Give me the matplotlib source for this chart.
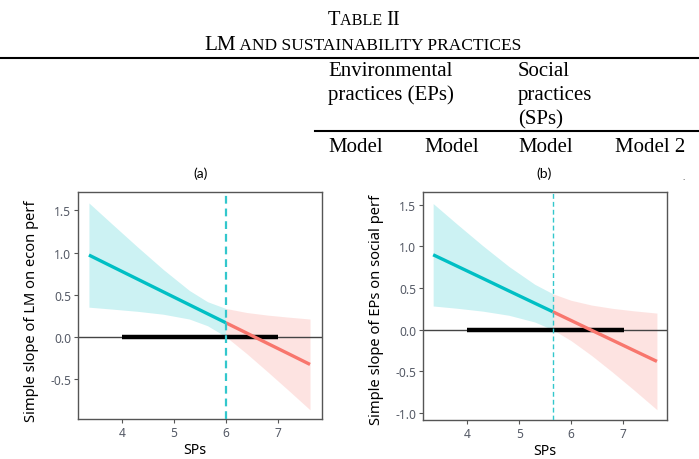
import matplotlib
matplotlib.use("Agg")
import matplotlib.pyplot as plt
import numpy as np
from matplotlib.lines import Line2D

# ---------------- data ----------------
sp_a = [3.37, 3.8, 4.3, 4.8, 5.3, 5.65, 6.0, 6.4, 6.8, 7.2, 7.62]
est_a = [0.97, 0.838, 0.685, 0.532, 0.379, 0.272, 0.165, 0.043, -0.080, -0.202, -0.331]
upper_a = [1.59, 1.348, 1.069, 0.798, 0.549, 0.415, 0.335, 0.287, 0.256, 0.232, 0.209]
lower_a = [0.35, 0.328, 0.301, 0.266, 0.209, 0.129, 0.0, -0.201, -0.416, -0.636, -0.871]
jn_a = 6.0
range_a = [4.0, 7.0]

sp_b = [3.34, 3.8, 4.3, 4.8, 5.3, 5.65, 6.0, 6.4, 6.8, 7.2, 7.66]
est_b = [0.90, 0.764, 0.616, 0.467, 0.319, 0.216, 0.112, -0.007, -0.125, -0.244, -0.38]
upper_b = [1.515, 1.269, 1.008, 0.761, 0.546, 0.432, 0.354, 0.296, 0.257, 0.228, 0.20]
lower_b = [0.285, 0.258, 0.223, 0.174, 0.093, 0.0, -0.130, -0.310, -0.508, -0.715, -0.96]
jn_b = 5.65
range_b = [4.0, 7.03]

xticks = [4, 5, 6, 7]
yticks_a = [-0.5, 0.0, 0.5, 1.0, 1.5]
yticks_b = [-1.0, -0.5, 0.0, 0.5, 1.0, 1.5]
ylabel_a = "Simple slope of LM on econ perf"
ylabel_b = "Simple slope of EPs on social perf"
xlabel = "SPs"

# ---------------- figure ----------------
W, H = 699, 460
fig = plt.figure(figsize=(W / 100, H / 100), dpi=100)


def fx(x):
    return x / W


def fy(y):
    return 1 - y / H


SERIF = ["Liberation Serif", "DejaVu Serif"]


def smallcaps(pieces, cx, base_y):
    renderer = fig.canvas.get_renderer()
    texts = []
    widths = []
    for s, size in pieces:
        t = fig.text(0, 0, s, fontsize=size, family=SERIF, va="baseline", ha="left")
        widths.append(t.get_window_extent(renderer).width)
        texts.append(t)
    total = sum(widths)
    x = cx - total / 2
    for t, w in zip(texts, widths):
        t.set_position((fx(x), fy(base_y)))
        x += w


smallcaps([("T", 14.8), ("ABLE ", 11.6), ("II", 14.8)], 364, 25)
smallcaps([("LM", 15.2), (" AND SUSTAINABILITY PRACTICES", 12.5)], 363, 50)

fig.add_artist(Line2D([fx(0), fx(699)], [fy(59), fy(59)], color="black", lw=1.5,
                      transform=fig.transFigure))
fig.add_artist(Line2D([fx(315), fx(699)], [fy(132), fy(132)], color="black", lw=1.5,
                      transform=fig.transFigure))

tsize = 15.0
for s, x, y in [("Environmental", 328, 76), ("practices (EPs)", 328, 100),
                ("Social", 518, 76), ("practices", 518, 100), ("(SPs)", 518, 124),
                ("Model", 328, 152), ("Model", 424, 152), ("Model", 518, 152),
                ("Model 2", 615, 152)]:
    fig.text(fx(x), fy(y), s, fontsize=tsize, family=SERIF, va="baseline", ha="left")

SANS = ["Lato", "DejaVu Sans"]
fig.text(fx(201), fy(174), "(a)", fontsize=10, family=SANS, ha="center", va="center")
fig.text(fx(544), fy(174), "(b)", fontsize=10, family=SANS, ha="center", va="center")
fig.text(fx(684), fy(178), ".", fontsize=7, family=SANS, ha="center", va="center",
         color="#333333")

BLUE = "#00BFC4"
RED = "#F8766D"
PLOTFONT = ["Noto Sans", "DejaVu Sans"]


def jn_panel(rect, sp, est, up, lo, jn, rng, xlim, ylim, yticks, ylabel,
             ylab_xy, xlab_xy, vlw):
    ax = fig.add_axes(rect)
    sp = np.asarray(sp)
    est = np.asarray(est)
    up = np.asarray(up)
    lo = np.asarray(lo)
    m1 = sp <= jn + 1e-9
    m2 = sp >= jn - 1e-9
    ax.fill_between(sp[m1], lo[m1], up[m1], color=BLUE, alpha=0.2, lw=0)
    ax.fill_between(sp[m2], lo[m2], up[m2], color=RED, alpha=0.2, lw=0)
    ax.axhline(0, color="#444444", lw=1.0, zorder=2)
    ax.plot(rng, [0, 0], color="black", lw=3.2, solid_capstyle="butt", zorder=3)
    ax.plot(sp[m1], est[m1], color=BLUE, lw=2.4, zorder=4, solid_capstyle="butt")
    ax.plot(sp[m2], est[m2], color=RED, lw=2.4, zorder=4, solid_capstyle="butt")
    ax.axvline(jn, color="#33C7CC", lw=vlw, ls=(0, (3.5, 2.2)), zorder=5)
    ax.set_xlim(*xlim)
    ax.set_ylim(*ylim)
    ax.set_xticks(xticks)
    ax.set_xticklabels([str(t) for t in xticks])
    ax.set_yticks(yticks)
    ax.set_yticklabels([f"{t:.1f}" for t in yticks])
    for s in ax.spines.values():
        s.set_color("#555555")
        s.set_linewidth(1.0)
    ax.tick_params(colors="#555555", length=3, width=0.8, labelsize=8.6,
                   labelcolor="#555a66", pad=2)
    for lab in ax.get_xticklabels() + ax.get_yticklabels():
        lab.set_family(PLOTFONT)
    ax.set_ylabel(ylabel, fontsize=10.6, family=PLOTFONT, va="center", color="black")
    ax.yaxis.set_label_coords(*ylab_xy)
    ax.set_xlabel(xlabel, fontsize=10.2, family=PLOTFONT, va="center", color="black")
    ax.xaxis.set_label_coords(*xlab_xy)
    return ax


rect_a = [fx(78), 1 - 420 / H, 244 / W, 227 / H]
rect_b = [fx(423.3), 1 - 420.7 / H, 244 / W, 227.4 / H]

jn_panel(rect_a, sp_a, est_a, upper_a, lower_a, jn_a, range_a,
         (3.16, 7.85), (-0.98, 1.72), yticks_a, ylabel_a,
         (-0.19, 0.48), (0.48, -0.135), 1.6)
jn_panel(rect_b, sp_b, est_b, upper_b, lower_b, jn_b, range_b,
         (3.15, 7.86), (-1.08, 1.65), yticks_b, ylabel_b,
         (-0.19, 0.487), (0.497, -0.135), 1.0)

fig.savefig("out.png", dpi=100)
